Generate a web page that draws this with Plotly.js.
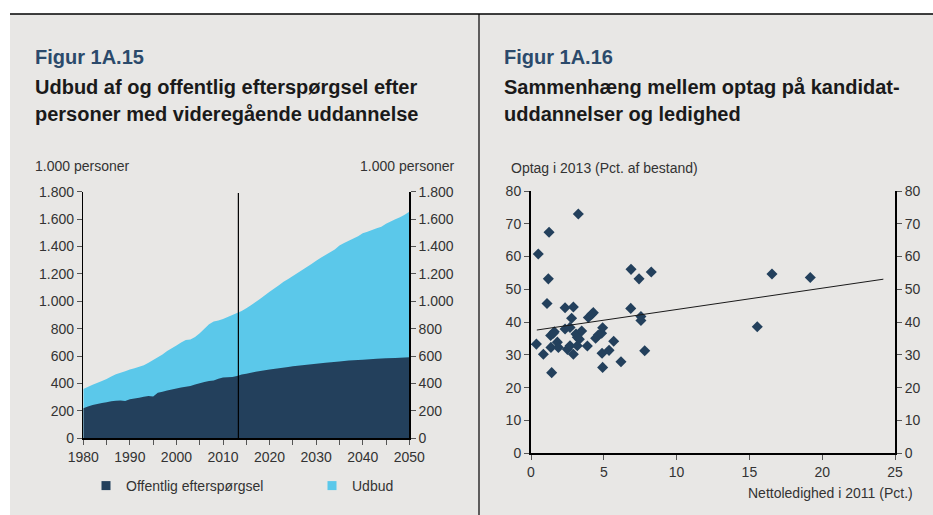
<!DOCTYPE html>
<html>
<head>
<meta charset="utf-8">
<script src="https://cdn.plot.ly/plotly-3.0.1.min.js"></script>
<style>html,body{margin:0;padding:0;background:#fff;}#chart{width:933px;height:515px;}</style>
</head>
<body>
<div id="chart"></div>
<script>
// ---- Figur 1A.15 data (1.000 personer) ----
const udbudYears = [1980,1982,1984,1985,1986,1987,1988,1989,1990,1991,1992,1993,1994,1995,1996,1997,1998,1999,2000,2001,2002,2003,2004,2005,2006,2007,2008,2009,2010,2011,2012,2013,2014,2015,2016,2017,2018,2019,2020,2021,2022,2023,2024,2025,2026,2027,2028,2029,2030,2031,2032,2033,2034,2035,2036,2037,2038,2039,2040,2041,2042,2043,2044,2045,2046,2047,2048,2049,2050];
const udbud = [360,390,418,433,452,468,478,490,503,512,522,534,552,572,592,612,638,657,678,700,718,722,740,766,800,833,852,860,870,885,900,915,930,950,972,995,1018,1044,1070,1093,1118,1142,1163,1185,1207,1228,1250,1272,1296,1318,1338,1358,1378,1408,1425,1442,1458,1475,1496,1508,1520,1533,1545,1566,1582,1598,1614,1632,1654];
const offYears = [1980,1981,1982,1983,1984,1985,1986,1987,1988,1989,1990,1991,1992,1993,1994,1995,1996,1997,1998,1999,2000,2001,2002,2003,2004,2005,2006,2007,2008,2009,2010,2011,2012,2013,2014,2015,2016,2017,2018,2019,2020,2022,2024,2025,2027,2030,2032,2035,2037,2040,2043,2045,2047,2050];
const offentlig = [219,232,243,250,257,263,270,275,276,272,285,290,296,304,309,306,333,340,348,356,363,370,377,382,392,401,411,418,421,435,443,445,448,455,465,472,478,485,491,497,503,512,521,526,534,545,552,561,567,574,580,584,587,591];
const forecastLineYear = 2013.3;
const forecastLineTop = 1790;

// ---- Figur 1A.16 data ----
const ledighed = [0.37,0.50,0.85,1.24,1.19,1.10,1.42,1.37,1.35,1.53,1.60,1.81,1.88,2.34,2.34,2.50,2.68,2.68,2.79,2.91,2.91,3.09,3.18,3.25,3.18,3.32,3.48,3.87,3.94,4.17,4.28,4.44,4.62,4.85,4.92,4.88,4.92,5.36,5.68,6.18,6.85,6.87,7.42,7.55,7.55,7.81,8.26,15.54,16.55,19.18];
const optag = [33.3,60.8,30.2,67.4,53.2,45.7,24.6,32.3,35.9,36.6,37.1,33.9,32.3,44.4,37.9,31.7,32.8,38.4,41.2,44.6,30.2,36.4,32.8,73.0,35.4,34.8,37.3,32.7,41.4,42.4,42.9,35.1,36.1,36.6,38.3,30.5,26.2,31.4,34.2,27.9,44.2,56.1,53.2,41.7,40.5,31.3,55.3,38.6,54.7,53.6];
const trendX = [0.4, 24.2];
const trendY = [37.6, 53.1];

const navy = '#23405c';
const sky = '#5bc8ea';
const bg = '#e8e7e5';
const W = 933, H = 515;
const px = v => v / W;
const py = v => 1 - v / H;
const font = 'Liberation Sans, Arial, sans-serif';

const traces = [
  {x: udbudYears, y: udbud, type: 'scatter', mode: 'none', fill: 'tozeroy', fillcolor: sky, name: 'Udbud', showlegend: false, xaxis: 'x', yaxis: 'y', hoverinfo: 'x+y'},
  {x: offYears, y: offentlig, type: 'scatter', mode: 'none', fill: 'tozeroy', fillcolor: navy, name: 'Offentlig efterspørgsel', showlegend: false, xaxis: 'x', yaxis: 'y', hoverinfo: 'x+y'},
  {x: [null], y: [null], type: 'scatter', mode: 'markers', marker: {symbol: 'square', size: 9, color: navy}, name: 'Offentlig efterspørgsel', xaxis: 'x', yaxis: 'y'},
  {x: [null], y: [null], type: 'scatter', mode: 'markers', marker: {symbol: 'square', size: 9, color: sky}, name: 'Udbud', xaxis: 'x', yaxis: 'y'},
  {x: [null], y: [null], type: 'scatter', mode: 'markers', showlegend: false, xaxis: 'x', yaxis: 'y2', hoverinfo: 'skip'},
  {x: ledighed, y: optag, type: 'scatter', mode: 'markers', marker: {symbol: 'diamond', size: 8.5, color: navy}, showlegend: false, xaxis: 'x2', yaxis: 'y3'},
  {x: trendX, y: trendY, type: 'scatter', mode: 'lines', line: {color: '#1a1a1a', width: 1}, showlegend: false, xaxis: 'x2', yaxis: 'y3', hoverinfo: 'skip'},
  {x: [null], y: [null], type: 'scatter', mode: 'markers', showlegend: false, xaxis: 'x2', yaxis: 'y4', hoverinfo: 'skip'}
];

const tickFont = {family: font, size: 14, color: '#333'};
const baseY = {showgrid: false, zeroline: false, showline: true, linecolor: '#000', ticks: 'outside', ticklen: 5, tickcolor: '#555', tickfont: tickFont, fixedrange: true, automargin: false};

const layout = {
  width: W, height: H,
  margin: {l: 0, r: 0, t: 0, b: 0},
  paper_bgcolor: '#ffffff',
  plot_bgcolor: 'rgba(0,0,0,0)',
  separators: ',.',
  font: {family: font, color: '#333'},
  showlegend: true,
  legend: {orientation: 'h', x: px(86), xanchor: 'left', y: py(486), yanchor: 'middle', bgcolor: 'rgba(0,0,0,0)', font: {family: font, size: 14, color: '#333'}, entrywidth: 181, entrywidthmode: 'pixels', itemwidth: 30},
  xaxis: {domain: [px(83.3), px(409.3)], range: [1980, 2050], dtick: 10, tick0: 1980, showgrid: false, zeroline: false, showline: true, linecolor: '#000', linewidth: 1.5, ticks: 'outside', ticklen: 5, tickcolor: '#555', tickfont: tickFont, minor: {dtick: 5, ticks: 'outside', ticklen: 5, tickcolor: '#555', showgrid: false}, anchor: 'y', fixedrange: true, automargin: false},
  yaxis: Object.assign({}, baseY, {domain: [py(438.3), py(191.7)], range: [0, 1800], dtick: 200, tickformat: ',d', linewidth: 1.5, anchor: 'x'}),
  yaxis2: Object.assign({}, baseY, {overlaying: 'y', side: 'right', range: [0, 1800], dtick: 200, tickformat: ',d', linewidth: 1.5, anchor: 'x'}),
  xaxis2: {domain: [px(531), px(895)], range: [0, 25], dtick: 5, showgrid: false, zeroline: false, showline: true, linecolor: '#000', linewidth: 2, ticks: 'outside', ticklen: 5, tickcolor: '#555', tickfont: tickFont, anchor: 'y3', fixedrange: true, automargin: false},
  yaxis3: Object.assign({}, baseY, {domain: [py(453.3), py(191)], range: [0, 80], dtick: 10, linewidth: 2, anchor: 'x2'}),
  yaxis4: Object.assign({}, baseY, {overlaying: 'y3', side: 'right', range: [0, 80], dtick: 10, linewidth: 2, anchor: 'x2'}),
  shapes: [
    {type: 'rect', xref: 'paper', yref: 'paper', x0: px(10), x1: 1, y0: 0, y1: py(14), fillcolor: bg, line: {width: 0}, layer: 'below'},
    {type: 'line', xref: 'paper', yref: 'paper', x0: px(10), x1: 1, y0: py(14), y1: py(14), line: {color: '#000', width: 1.5}},
    {type: 'line', xref: 'paper', yref: 'paper', x0: px(479), x1: px(479), y0: 0, y1: py(14), line: {color: '#000', width: 1.2}},
    {type: 'line', xref: 'x', yref: 'y', x0: forecastLineYear, x1: forecastLineYear, y0: 0, y1: forecastLineTop, line: {color: '#000', width: 1.2}}
  ],
  annotations: [
    {text: '<b>Figur 1A.15</b>', xref: 'paper', yref: 'paper', x: px(33), y: py(57), xanchor: 'left', yanchor: 'middle', showarrow: false, font: {family: font, size: 20, color: '#2b4a6b'}},
    {text: '<b>Udbud af og offentlig efterspørgsel efter</b>', xref: 'paper', yref: 'paper', x: px(33), y: py(86.5), xanchor: 'left', yanchor: 'middle', showarrow: false, font: {family: font, size: 20, color: '#1a1a1a'}},
    {text: '<b>personer med videregående uddannelse</b>', xref: 'paper', yref: 'paper', x: px(33), y: py(113.5), xanchor: 'left', yanchor: 'middle', showarrow: false, font: {family: font, size: 20, color: '#1a1a1a'}},
    {text: '1.000 personer', xref: 'paper', yref: 'paper', x: px(33), y: py(166), xanchor: 'left', yanchor: 'middle', showarrow: false, font: {family: font, size: 14, color: '#333'}},
    {text: '1.000 personer', xref: 'paper', yref: 'paper', x: px(457), y: py(166), xanchor: 'right', yanchor: 'middle', showarrow: false, font: {family: font, size: 14, color: '#333'}},
    {text: '<b>Figur 1A.16</b>', xref: 'paper', yref: 'paper', x: px(502), y: py(57), xanchor: 'left', yanchor: 'middle', showarrow: false, font: {family: font, size: 20, color: '#2b4a6b'}},
    {text: '<b>Sammenhæng mellem optag på kandidat-</b>', xref: 'paper', yref: 'paper', x: px(502), y: py(86.5), xanchor: 'left', yanchor: 'middle', showarrow: false, font: {family: font, size: 20, color: '#1a1a1a'}},
    {text: '<b>uddannelser og ledighed</b>', xref: 'paper', yref: 'paper', x: px(502), y: py(113.5), xanchor: 'left', yanchor: 'middle', showarrow: false, font: {family: font, size: 20, color: '#1a1a1a'}},
    {text: 'Optag i 2013 (Pct. af bestand)', xref: 'paper', yref: 'paper', x: px(509), y: py(168), xanchor: 'left', yanchor: 'middle', showarrow: false, font: {family: font, size: 14, color: '#333'}},
    {text: 'Nettoledighed i 2011 (Pct.)', xref: 'paper', yref: 'paper', x: px(915), y: py(493), xanchor: 'right', yanchor: 'middle', showarrow: false, font: {family: font, size: 14, color: '#333'}}
  ]
};

Plotly.newPlot('chart', traces, layout, {displayModeBar: false, staticPlot: true});
</script>
</body>
</html>
